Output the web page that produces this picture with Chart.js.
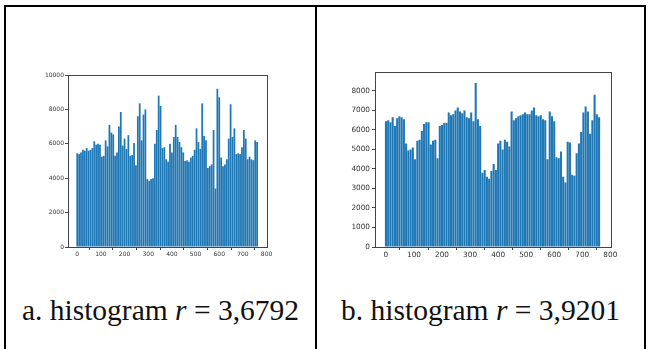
<!DOCTYPE html>
<html><head><meta charset="utf-8">
<script src="https://cdn.jsdelivr.net/npm/chart.js@4/dist/chart.umd.min.js"></script>
<style>
body{margin:0;background:#fff;width:648px;height:349px;overflow:hidden;position:relative;font-family:"Liberation Serif","DejaVu Serif",serif}
.line{position:absolute;background:#000}
.cv{position:absolute}
.cap{position:absolute;top:291px;height:38px;line-height:38px;text-align:center;font-size:29.5px;color:#111;white-space:nowrap}
</style></head><body>
<div class="line" style="left:4px;top:5px;width:642px;height:2px"></div>
<div class="line" style="left:4px;top:5px;width:2px;height:344px"></div>
<div class="line" style="left:315px;top:5px;width:2px;height:344px"></div>
<div class="line" style="left:644px;top:5px;width:2px;height:344px"></div>
<canvas id="ca" class="cv" style="left:30px;top:70px" width="245" height="195"></canvas>
<canvas id="cb" class="cv" style="left:335px;top:66px" width="285" height="199"></canvas>
<div class="cap" style="left:6px;width:309px">a. histogram <i>r</i> = 3,6792</div>
<div class="cap" style="left:317px;width:327px">b. histogram <i>r</i> = 3,9201</div>
<script>
// bin positions (pixel-value index, every 8th bin)
const bins = [];
for (let i = 0; i < 96; i++) bins.push(i * 8);

const countsA = [5450,5400,5500,5650,5600,5750,5600,5650,5750,6150,5950,6000,5950,5250,5300,6200,
  5850,7100,6650,6550,5300,5500,7000,7850,5900,6300,5700,6500,5300,5350,6050,4750,
  7600,8350,6200,7700,8000,3950,3850,3950,4000,6000,6800,8800,8200,5750,5800,5100,
  4950,6000,5500,6400,7100,6400,6100,5800,5500,5000,5050,4950,5200,5300,5650,6900,
  6100,5700,8350,6450,6200,4600,4700,4800,6800,3400,9200,8700,5200,4700,4800,5100,
  6300,8300,6400,6900,5400,5450,5400,5800,6800,6300,5100,5250,5100,5050,6200,6100];

const countsB = [6450,6500,6400,6650,6200,6600,6700,6650,6550,5300,4950,5000,5100,4500,5450,5500,
  5950,6300,6400,6400,5250,5450,5500,4550,6200,6250,6350,6350,6900,6750,6800,7000,
  7150,6950,6850,7000,6650,6600,6900,6450,8400,6550,6200,3800,3950,3600,3500,3900,
  4250,3950,5300,5450,5000,5500,5400,5150,6950,6500,6600,6700,6750,6800,6900,6800,
  6800,7000,7150,6750,6700,6750,6550,6500,4500,6950,6700,6450,4600,4550,4900,3600,
  3300,5400,5350,3700,3650,4800,5300,5900,6900,7200,6950,5800,6500,7800,6800,6650];

const xTicks = [0,100,200,300,400,500,600,700,800];
const yTicksA = [0,2000,4000,6000,8000,10000];
const yTicksB = [0,1000,2000,3000,4000,5000,6000,7000,8000];

const frame = {id:'frame', afterDatasetsDraw(c){
  const a=c.chartArea, x=c.ctx; x.save(); x.strokeStyle='#444'; x.lineWidth=1;
  x.strokeRect(Math.round(a.left)+0.5, Math.round(a.top)+0.5, Math.round(a.right-a.left)-1, Math.round(a.bottom-a.top));
  x.restore();
}};

function make(id, ys, yTicks, cfg){
  new Chart(document.getElementById(id), {
    type:'bar',
    data:{datasets:[{data: bins.map((b,i)=>({x:b, y:ys[i]})), backgroundColor:'#1f77b4', borderWidth:0,
      categoryPercentage:1, barPercentage:0.93}]},
    options:{responsive:false, animation:false, devicePixelRatio:1,
      layout:{padding:{top:cfg.padTop, right:cfg.padRight, left:0, bottom:0}},
      plugins:{legend:{display:false}, tooltip:{enabled:false}},
      scales:{
        x:{type:'linear', min:-39, max:806, offset:false,
          afterBuildTicks:s=>{s.ticks = xTicks.map(v=>({value:v}));},
          afterFit:s=>{s.height=cfg.xH;},
          grid:{drawOnChartArea:false, tickLength:3, color:'#444'},
          border:{display:false},
          ticks:{font:{family:'DejaVu Sans', size:cfg.fs}, color:'#333', padding:1, maxRotation:0, autoSkip:false, callback:v=>String(v)}},
        y:{min:0, max:cfg.ymax,
          afterBuildTicks:s=>{s.ticks = yTicks.map(v=>({value:v}));},
          afterFit:s=>{s.width=cfg.yW;},
          grid:{drawOnChartArea:false, tickLength:3, color:'#444'},
          border:{display:false},
          ticks:{font:{family:'DejaVu Sans', size:cfg.fs}, color:'#333', padding:cfg.yPad, autoSkip:false, callback:v=>String(v)}}
      }
    },
    plugins:[frame]
  });
}
make('ca', countsA, yTicksA, {padTop:5, padRight:7, xH:18, yW:38, ymax:10000, fs:6, yPad:1});
make('cb', countsB, yTicksB, {padTop:6, padRight:8, xH:18, yW:40, ymax:8950, fs:7.3, yPad:2});
</script>
</body></html>
